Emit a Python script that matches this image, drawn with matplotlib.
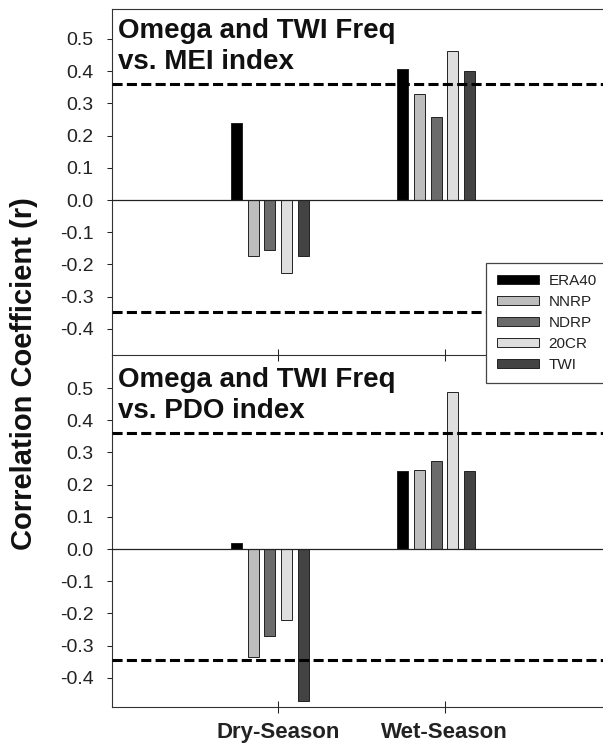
import matplotlib
matplotlib.use('Agg')
import matplotlib.pyplot as plt

plt.rcParams['font.family'] = ['Liberation Sans', 'DejaVu Sans']

# ---------------- data ----------------
seasons = ['Dry-Season', 'Wet-Season']
datasets = ['ERA40', 'NNRP', 'NDRP', '20CR', 'TWI']
colors = ['#000000', '#bdbdbd', '#6b6b6b', '#dedede', '#434343']

mei_dry = [0.240, -0.175, -0.155, -0.226, -0.175]
mei_wet = [0.406, 0.330, 0.258, 0.463, 0.400]
pdo_dry = [0.019, -0.335, -0.271, -0.220, -0.471]
pdo_wet = [0.242, 0.244, 0.273, 0.488, 0.242]

sig_upper = 0.36
sig_lower = -0.346

yticks = [-0.4, -0.3, -0.2, -0.1, 0.0, 0.1, 0.2, 0.3, 0.4, 0.5]
ytick_labels = ['-0.4', '-0.3', '-0.2', '-0.1', '0.0', '0.1', '0.2', '0.3', '0.4', '0.5']

titles = [('Omega and TWI Freq', 'vs. MEI index'),
          ('Omega and TWI Freq', 'vs. PDO index')]
ylabel = 'Correlation Coefficient (r)'

# ---------------- layout ----------------
W, H = 603, 746
fig = plt.figure(figsize=(W / 100, H / 100), dpi=100)


def px_axes(left, top, right, bottom):
    return fig.add_axes([left / W, 1 - bottom / H, (right - left) / W, (bottom - top) / H])


ax_top = px_axes(111.9, 9, 610.8, 355)
ax_bot = px_axes(111.9, 355, 610.8, 707.3)

bar_offsets = [-0.25, -0.15, -0.05, 0.05, 0.15]
bar_width = 0.066
xpos = [1, 2]

panels = [(ax_top, mei_dry, mei_wet, (-0.481, 0.593)),
          (ax_bot, pdo_dry, pdo_wet, (-0.4916, 0.6025))]

handles = []
for k, (ax, dry, wet, ylim) in enumerate(panels):
    for i, name in enumerate(datasets):
        vals = [dry[i], wet[i]]
        b = ax.bar([x + bar_offsets[i] for x in xpos], vals, width=bar_width,
                   color=colors[i], edgecolor='#222222', linewidth=0.7,
                   label=name, zorder=3)
        if k == 0:
            handles.append(b)
    ax.axhline(0, color='#222222', lw=0.9, zorder=4)
    ax.axhline(sig_upper, color='black', lw=2.2, dashes=(3.3, 1.4), zorder=5)
    ax.axhline(sig_lower, color='black', lw=2.2, dashes=(3.3, 1.4), zorder=5)

    ax.set_xlim(0, 3)
    ax.set_ylim(*ylim)
    ax.set_yticks(yticks)
    ax.set_yticklabels(ytick_labels)
    ax.set_xticks(xpos)
    ax.tick_params(axis='y', direction='out', length=3.6, width=0.75,
                   pad=9.6, labelsize=14, colors='#222222')
    ax.tick_params(axis='x', direction='inout', length=8.6, width=0.75,
                   pad=6, labelsize=16, colors='#222222')
    ax.spines['right'].set_visible(False)
    for s in ['left', 'bottom', 'top']:
        ax.spines[s].set_linewidth(0.8)
        ax.spines[s].set_color('#333333')
    ax.set_facecolor('none')

ax_top.tick_params(axis='x', labelbottom=False)
ax_bot.spines['top'].set_visible(False)
ax_bot.set_xticklabels(seasons, fontweight='bold')

# panel titles
title_pos = [(38.5, 69.0), (387.5, 418.0)]
for (l1, l2), (y1, y2) in zip(titles, title_pos):
    fig.text(118.3 / W, 1 - y1 / H, l1, fontsize=20, fontweight='bold',
             ha='left', va='baseline', color='#111111')
    fig.text(118.3 / W, 1 - y2 / H, l2, fontsize=20, fontweight='bold',
             ha='left', va='baseline', color='#111111')

fig.text(24 / W, 1 - 373.5 / H, ylabel, rotation=90, fontsize=21,
         fontweight='bold', ha='center', va='center', color='#111111')

leg = fig.legend(handles, datasets, loc='upper left',
                 bbox_to_anchor=(486 / W, 1 - 262.7 / H), borderaxespad=0,
                 fontsize=11, handlelength=2.7, handleheight=0.55,
                 handletextpad=0.65, labelspacing=0.45, borderpad=0.75,
                 frameon=True, fancybox=False, edgecolor='#444444',
                 framealpha=1)
leg.get_frame().set_linewidth(0.9)
for t in leg.get_texts():
    t.set_color('#222222')

fig.savefig('out.png', dpi=100)
